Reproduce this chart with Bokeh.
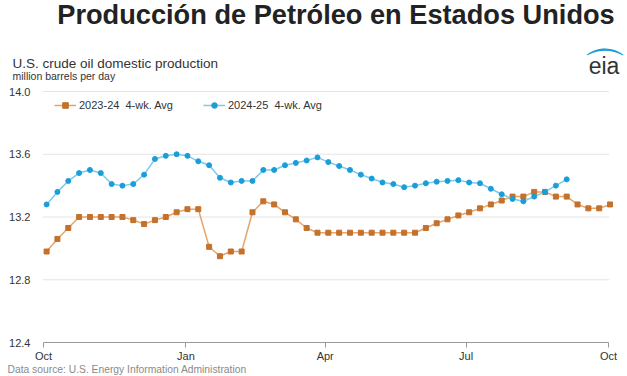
import pandas as pd
from bokeh.plotting import figure
from bokeh.models import (Range1d, FixedTicker, DatetimeTickFormatter, Label,
                          Legend, LegendItem, ColumnDataSource, NumeralTickFormatter)
from bokeh.embed import file_html
from bokeh.resources import INLINE

# ---------------- data ----------------
week_start = "2024-10-03"
prod_2023_24 = [12.98, 13.06, 13.13, 13.20, 13.20, 13.20, 13.20, 13.20, 13.18, 13.155,
                13.18, 13.20, 13.23, 13.25, 13.25, 13.01, 12.95, 12.98, 12.98, 13.23,
                13.30, 13.28, 13.23, 13.185, 13.13, 13.10, 13.10, 13.10, 13.10, 13.10,
                13.10, 13.10, 13.10, 13.10, 13.10, 13.13, 13.16, 13.185, 13.21, 13.23,
                13.255, 13.28, 13.305, 13.33, 13.33, 13.36, 13.36, 13.33, 13.33, 13.28,
                13.255, 13.255, 13.28]
prod_2024_25 = [13.28, 13.36, 13.43, 13.48, 13.50, 13.48, 13.41, 13.40, 13.41, 13.47,
                13.57, 13.59, 13.60, 13.59, 13.555, 13.53, 13.45, 13.42, 13.43, 13.43,
                13.50, 13.50, 13.53, 13.545, 13.56, 13.58, 13.55, 13.525, 13.50, 13.47,
                13.445, 13.42, 13.41, 13.39, 13.40, 13.415, 13.425, 13.43, 13.435, 13.42,
                13.415, 13.38, 13.345, 13.315, 13.30, 13.33, 13.36, 13.40, 13.44]
series_labels = ["2023-24  4-wk. Avg", "2024-25  4-wk. Avg"]
y_ticks = [12.4, 12.8, 13.2, 13.6, 14.0]
x_tick_dates = ["2024-10-01", "2025-01-01", "2025-04-01", "2025-07-01", "2025-10-01"]

title_text = "Producción de Petróleo en Estados Unidos"
subtitle_text = "U.S. crude oil domestic production"
units_text = "million barrels per day"
source_text = "Data source: U.S. Energy Information Administration"
logo_text = "eia"

# ---------------- layout (pixels) ----------------
W, H = 627, 376
PL, PR, PT, PB = 43, 608, 91, 342   # plotting area inside the canvas

t0 = pd.Timestamp(x_tick_dates[0]).value / 1e6
t1 = pd.Timestamp(x_tick_dates[-1]).value / 1e6
mpp = (t1 - t0) / (PR - PL)
upp = (y_ticks[-1] - y_ticks[0]) / (PB - PT)
x_range = Range1d(t0 - PL * mpp, t1 + (W - PR) * mpp)
y_range = Range1d(y_ticks[0] - (H - PB) * upp, y_ticks[-1] + PT * upp)

weeks_a = pd.date_range(week_start, periods=len(prod_2023_24), freq="7D")
weeks_b = pd.date_range(week_start, periods=len(prod_2024_25), freq="7D")
src_a = ColumnDataSource(dict(x=weeks_a, y=prod_2023_24))
src_b = ColumnDataSource(dict(x=weeks_b, y=prod_2024_25))

p = figure(width=W, height=H, output_backend="svg", toolbar_location=None,
           x_axis_type="datetime", x_range=x_range, y_range=y_range,
           min_border=0)
p.outline_line_color = None
p.background_fill_color = "white"
p.border_fill_color = "white"

FONT = "Liberation Sans"
ORANGE_M, ORANGE_L = "#c4712b", "#e3a56c"
BLUE_M, BLUE_L = "#1a9ed9", "#7ccbeb"

# grid lines across the plotting period only
grid_y = y_ticks[1:]
p.segment(x0=[t0] * len(grid_y), x1=[t1] * len(grid_y), y0=grid_y, y1=grid_y,
          line_color="#c8c8c8", line_width=1, line_dash="1 1")

la = p.line("x", "y", source=src_a, line_color=ORANGE_L, line_width=1.5)
sa = p.scatter("x", "y", source=src_a, marker="square", size=5,
               fill_color=ORANGE_M, line_color=ORANGE_M)
lb = p.line("x", "y", source=src_b, line_color=BLUE_L, line_width=1.5)
sb = p.scatter("x", "y", source=src_b, marker="circle", size=5,
               fill_color=BLUE_M, line_color=BLUE_M)

# axes drawn at fixed locations inside the canvas
xa = p.xaxis[0]
xa.fixed_location = y_ticks[0]
xa.bounds = (t0, t1)
xa.ticker = FixedTicker(ticks=[pd.Timestamp(d).value / 1e6 for d in x_tick_dates])
xa.formatter = DatetimeTickFormatter(months="%b", days="%b", years="%b")
xa.axis_line_color = "#999999"
xa.major_tick_line_color = "#999999"
xa.major_tick_out = 5
xa.major_tick_in = 0
xa.minor_tick_line_color = None
xa.major_label_text_font = FONT
xa.major_label_text_font_size = "11px"
xa.major_label_text_color = "#333333"
xa.major_label_standoff = 2

ya = p.yaxis[0]
ya.fixed_location = t0
ya.ticker = FixedTicker(ticks=y_ticks)
ya.axis_line_color = None
ya.major_tick_line_color = None
ya.minor_tick_line_color = None
ya.major_label_text_font = FONT
ya.major_label_text_font_size = "11px"
ya.major_label_text_color = "#333333"
ya.major_label_standoff = 7
ya.formatter = NumeralTickFormatter(format="0.0")

p.xgrid.grid_line_color = None
p.ygrid.grid_line_color = None

# legend
leg = Legend(items=[LegendItem(label=series_labels[0], renderers=[la, sa]),
                    LegendItem(label=series_labels[1], renderers=[lb, sb])],
             orientation="horizontal", location=(54, H - 112),
             border_line_color=None, background_fill_alpha=0,
             padding=0, margin=0, spacing=30, label_standoff=3,
             glyph_width=22, glyph_height=14, label_height=14,
             label_text_font=FONT, label_text_font_size="11px",
             label_text_color="#333333")
p.add_layout(leg, "center")


def add_text(txt, cx, cy, size, color, style="normal", align="left",
             font=FONT, angle=0.0):
    p.add_layout(Label(x=cx, y=H - cy, x_units="screen", y_units="screen",
                       text=txt, text_font=font, text_font_size=size,
                       text_color=color, text_font_style=style, angle=angle,
                       text_align=align, text_baseline="middle"))


add_text(title_text, 335.5, 13.5, "27.2px", "#222222", "bold", "center")
add_text(subtitle_text, 12, 62.5, "13.5px", "#333333")
add_text(units_text, 12, 75, "10.5px", "#333333")
add_text(source_text, 7, 368.5, "10.3px", "#8a8a8a")
add_text(logo_text, 603.5, 65.5, "23px", "#333333", "normal", "center")
add_text("\u2312", 604, 68, "44px", BLUE_M, "normal", "center", "DejaVu Sans")

open("out.html", "w").write(file_html(p, INLINE))
